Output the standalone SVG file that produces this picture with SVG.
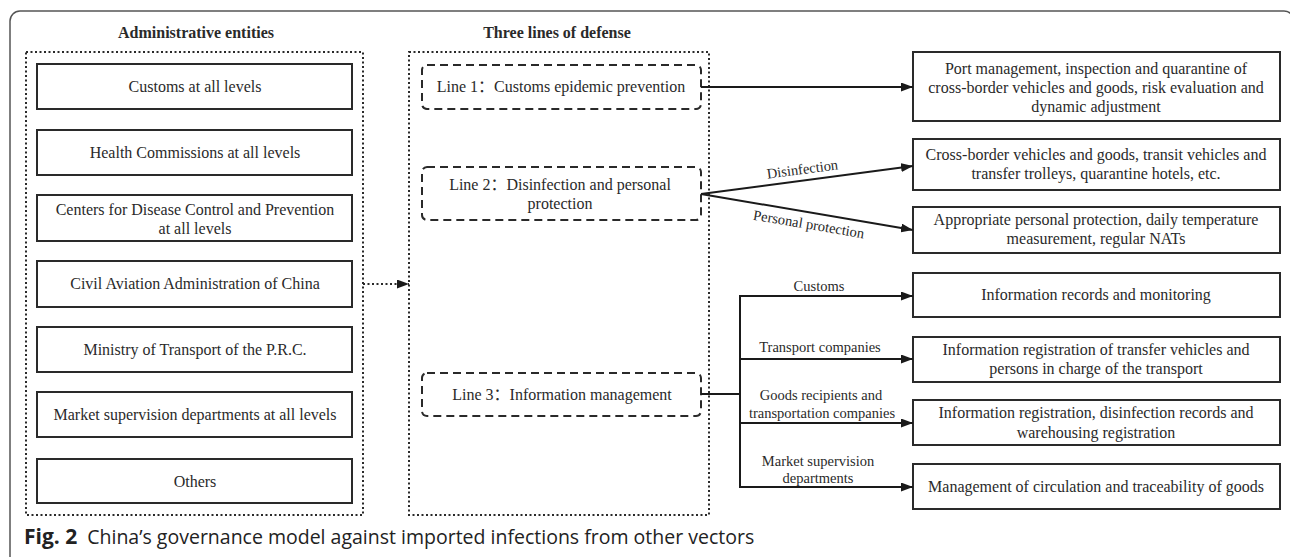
<svg xmlns="http://www.w3.org/2000/svg" width="1290" height="557" viewBox="0 0 1290 557">
<style>
.t{font-family:"Liberation Serif","Times New Roman","Noto Sans CJK SC",serif;font-size:16px;fill:#2a2a2a;text-anchor:middle}
.b{font-weight:bold}
.lb{font-family:"Liberation Serif","Times New Roman",serif;font-size:14.5px;fill:#2a2a2a;text-anchor:middle}
.box{fill:#fff;stroke:#2a2a2a;stroke-width:2}
.dash{fill:#fff;stroke:#2a2a2a;stroke-width:2;stroke-dasharray:8 5}
.dot{fill:none;stroke:#2a2a2a;stroke-width:2;stroke-dasharray:2 2.5}
.ln{fill:none;stroke:#1a1a1a;stroke-width:2}
.cap{font-family:"Open Sans","Noto Sans",sans-serif;font-size:19.5px;fill:#222}
</style>
<defs>
<marker id="ah" markerUnits="userSpaceOnUse" markerWidth="12" markerHeight="9" refX="12" refY="4.5" orient="auto">
<path d="M0,0 L12,4.5 L0,9 z" fill="#1a1a1a"/>
</marker>
</defs>
<rect x="10" y="11" width="1284" height="560" rx="10" fill="none" stroke="#555" stroke-width="1.5"/>
<text class="t b" x="196" y="38">Administrative entities</text>
<text class="t b" x="557" y="38">Three lines of defense</text>
<g id="admin-container"><rect class="dot" x="26" y="52" width="337" height="463"/></g>
<g id="defense-container"><rect class="dot" x="409" y="52" width="300" height="463"/></g>
<g id="a1"><rect class="box" x="37" y="64" width="315" height="45"/><text class="t" x="195" y="92">Customs at all levels</text></g>
<g id="a2"><rect class="box" x="37" y="130" width="315" height="45"/><text class="t" x="195" y="158">Health Commissions at all levels</text></g>
<g id="a3"><rect class="box" x="37" y="195" width="315" height="46"/><text class="t" x="195" y="215">Centers for Disease Control and Prevention</text><text class="t" x="195" y="234">at all levels</text></g>
<g id="a4"><rect class="box" x="37" y="261" width="315" height="46"/><text class="t" x="195" y="289">Civil Aviation Administration of China</text></g>
<g id="a5"><rect class="box" x="37" y="327" width="315" height="45"/><text class="t" x="195" y="355">Ministry of Transport of the P.R.C.</text></g>
<g id="a6"><rect class="box" x="37" y="392" width="315" height="45"/><text class="t" x="195" y="420">Market supervision departments at all levels</text></g>
<g id="a7"><rect class="box" x="37" y="459" width="315" height="44"/><text class="t" x="195" y="487">Others</text></g>
<g id="line1"><rect class="dash" x="422" y="65" width="279" height="44" rx="5"/><text class="t" x="561" y="92">Line 1：Customs epidemic prevention</text></g>
<g id="line2"><rect class="dash" x="422" y="167" width="279" height="53" rx="5"/><text class="t" x="560" y="190">Line 2：Disinfection and personal</text><text class="t" x="560" y="209">protection</text></g>
<g id="line3"><rect class="dash" x="422" y="373" width="279" height="43" rx="5"/><text class="t" x="562" y="400">Line 3：Information management</text></g>
<g id="r1"><rect class="box" x="913" y="52" width="367" height="69"/><text class="t" x="1096" y="74">Port management, inspection and quarantine of</text><text class="t" x="1096" y="93">cross-border vehicles and goods, risk evaluation and</text><text class="t" x="1096" y="112">dynamic adjustment</text></g>
<g id="r2"><rect class="box" x="913" y="139" width="367" height="51"/><text class="t" x="1096" y="160">Cross-border vehicles and goods, transit vehicles and</text><text class="t" x="1096" y="179">transfer trolleys, quarantine hotels, etc.</text></g>
<g id="r3"><rect class="box" x="913" y="207" width="367" height="46"/><text class="t" x="1096" y="225">Appropriate personal protection, daily temperature</text><text class="t" x="1096" y="244">measurement, regular NATs</text></g>
<g id="r4"><rect class="box" x="913" y="273" width="367" height="44"/><text class="t" x="1096" y="300">Information records and monitoring</text></g>
<g id="r5"><rect class="box" x="913" y="337" width="367" height="45"/><text class="t" x="1096" y="355">Information registration of transfer vehicles and</text><text class="t" x="1096" y="374">persons in charge of the transport</text></g>
<g id="r6"><rect class="box" x="913" y="400" width="367" height="45"/><text class="t" x="1096" y="418">Information registration, disinfection records and</text><text class="t" x="1096" y="438">warehousing registration</text></g>
<g id="r7"><rect class="box" x="913" y="464" width="367" height="45"/><text class="t" x="1096" y="492">Management of circulation and traceability of goods</text></g>
<g id="connectors">
<line class="dot" x1="363" y1="284" x2="409" y2="284" marker-end="url(#ah)"/>
<line class="ln" x1="701" y1="87" x2="913" y2="87" marker-end="url(#ah)"/>
<line class="ln" x1="701" y1="194" x2="913" y2="166" marker-end="url(#ah)"/>
<line class="ln" x1="701" y1="194" x2="913" y2="230" marker-end="url(#ah)"/>
<polyline class="ln" points="701,394 740,394"/>
<line class="ln" x1="740" y1="295" x2="740" y2="488"/>
<line class="ln" x1="739" y1="296" x2="913" y2="296" marker-end="url(#ah)"/>
<line class="ln" x1="739" y1="359" x2="913" y2="359" marker-end="url(#ah)"/>
<line class="ln" x1="739" y1="423" x2="913" y2="423" marker-end="url(#ah)"/>
<line class="ln" x1="739" y1="487" x2="913" y2="487" marker-end="url(#ah)"/>
<text class="lb" transform="translate(803,174) rotate(-7.5)">Disinfection</text>
<text class="lb" transform="translate(808,229) rotate(9.6)">Personal protection</text>
<text class="lb" x="819" y="291">Customs</text>
<text class="lb" x="820" y="352">Transport companies</text>
<text class="lb" x="821" y="400">Goods recipients and</text>
<text class="lb" x="822" y="418">transportation companies</text>
<text class="lb" x="818" y="466">Market supervision</text>
<text class="lb" x="818" y="483">departments</text>
</g>
<text class="cap" x="24" y="544"><tspan font-weight="bold" font-size="21">Fig. 2</tspan><tspan dx="10">China’s governance model against imported infections from other vectors</tspan></text>
</svg>
